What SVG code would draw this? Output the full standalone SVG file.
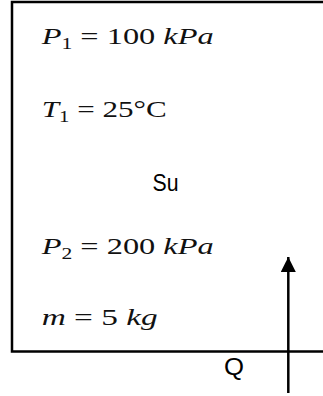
<svg xmlns="http://www.w3.org/2000/svg" width="323" height="396" viewBox="0 0 323 396">
<defs>
<style>
.m{font-family:"Liberation Serif","DejaVu Serif",serif;font-size:24px;fill:#111}
.i{font-style:italic}
.s{font-family:"Liberation Sans",Arial,sans-serif;font-size:24px;fill:#000}
.ln{fill:none;stroke:#000;stroke-width:2.5}
</style>
<marker id="ah" viewBox="0 0 10 10" refX="10" refY="5" markerWidth="17" markerHeight="15" markerUnits="userSpaceOnUse" orient="auto">
<path d="M0,0 L10,5 L0,10 Z" fill="#000"/>
</marker>
</defs>
<rect width="323" height="396" fill="#fff"/>
<g id="system">
<path class="ln" d="M330,2 H12 V351.5 H330"/>
<text class="m" x="41.7" y="44" textLength="172" lengthAdjust="spacingAndGlyphs"><tspan class="i">P</tspan><tspan font-size="16" dy="5">1</tspan><tspan dy="-5"> = 100 </tspan><tspan class="i">kPa</tspan></text>
<text class="m" x="41.7" y="116.5" textLength="125" lengthAdjust="spacingAndGlyphs"><tspan class="i">T</tspan><tspan font-size="16" dy="5">1</tspan><tspan dy="-5"> = 25°C</tspan></text>
<text class="s" x="152.5" y="190.5" textLength="26" lengthAdjust="spacingAndGlyphs">Su</text>
<text class="m" x="41.7" y="254" textLength="172" lengthAdjust="spacingAndGlyphs"><tspan class="i">P</tspan><tspan font-size="16" dy="5">2</tspan><tspan dy="-5"> = 200 </tspan><tspan class="i">kPa</tspan></text>
<text class="m" x="41.7" y="325" textLength="116" lengthAdjust="spacingAndGlyphs"><tspan class="i">m</tspan> = 5 <tspan class="i">kg</tspan></text>
</g>
<g id="heat">
<text class="s" x="224" y="374.5" textLength="20" lengthAdjust="spacingAndGlyphs">Q</text>
</g>
<g id="connectors">
<line class="ln" x1="288.3" y1="393" x2="288.3" y2="257" marker-end="url(#ah)"/>
</g>
</svg>
